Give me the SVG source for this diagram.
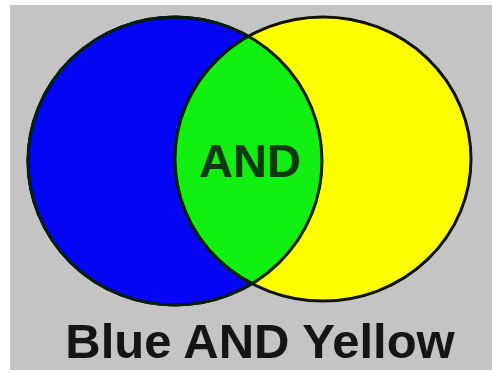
<svg xmlns="http://www.w3.org/2000/svg" width="492" height="372" viewBox="0 0 492 372">
<style>
.lbl{font-family:"Liberation Sans",Arial,sans-serif;font-weight:bold;text-anchor:middle}
</style>
<defs>
<clipPath id="blueClip"><ellipse cx="175" cy="161" rx="147" ry="144"/></clipPath>
</defs>
<rect x="0" y="0" width="492" height="372" fill="#ffffff"/>
<rect x="10" y="5" width="482" height="365" fill="#c4c4c4"/>
<g id="blue">
<ellipse cx="175" cy="161" rx="147" ry="144" fill="#0505f5" stroke="#000070" stroke-width="3"/>
</g>
<g id="yellow">
<ellipse cx="323" cy="159" rx="148" ry="142" fill="#ffff00" stroke="#111100" stroke-width="3"/>
</g>
<g id="and">
<ellipse cx="323" cy="159" rx="148" ry="142" fill="#11f011" clip-path="url(#blueClip)"/>
<ellipse cx="175" cy="161" rx="147" ry="144" fill="none" stroke="#062006" stroke-width="3"/>
<ellipse cx="323" cy="159" rx="148" ry="142" fill="none" stroke="#062006" stroke-width="3" clip-path="url(#blueClip)"/>
<text class="lbl" x="250" y="177" font-size="47" fill="#0c3a0c">AND</text>
</g>
<g id="caption">
<text class="lbl" x="260" y="358" font-size="49" fill="#151515">Blue AND Yellow</text>
</g>
</svg>
